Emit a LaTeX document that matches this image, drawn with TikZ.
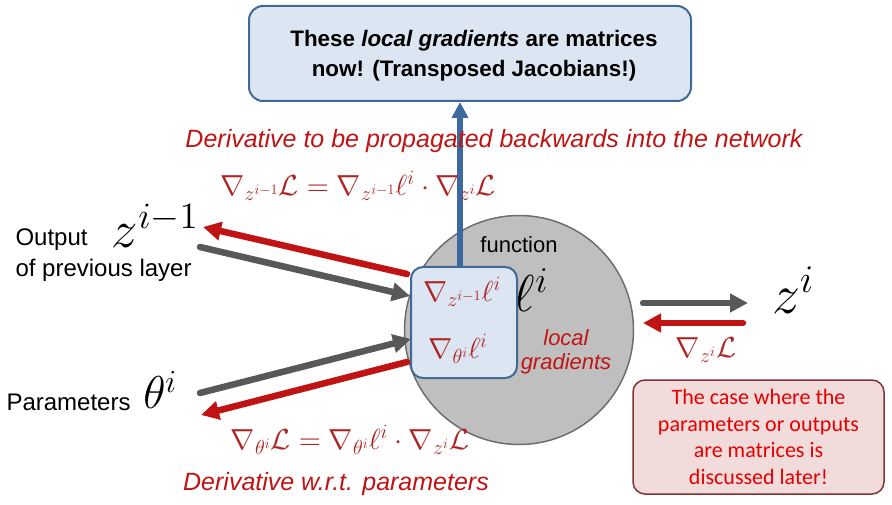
\documentclass[tikz,border=0pt]{standalone}
\DeclareFontFamily{OT1}{cmr}{\hyphenchar\font45 }
\DeclareFontShape{OT1}{cmr}{m}{n}{<-6>cmr5<6-7>cmr6<7-8>cmr7<8-9>cmr8<9-10>cmr9<10-12>cmr10<12->cmr12}{}
\DeclareFontFamily{OML}{cmm}{\skewchar\font127 }
\DeclareFontShape{OML}{cmm}{m}{it}{<-6>cmmi5<6-7>cmmi6<7-8>cmmi7<8-9>cmmi8<9-10>cmmi9<10-12>cmmi10<12->cmmi12}{}
\DeclareFontFamily{OMS}{cmsy}{\skewchar\font48 }
\DeclareFontShape{OMS}{cmsy}{m}{n}{<-6>cmsy5<6-7>cmsy6<7-8>cmsy7<8-9>cmsy8<9-10>cmsy9<10->cmsy10}{}
\usepackage{fontspec}
\setmainfont{Liberation Sans}
\newfontfamily\calfont{Carlito}
\usetikzlibrary{arrows.meta}
\definecolor{boxfill}{RGB}{220,230,242}
\definecolor{boxdraw}{RGB}{65,105,150}
\definecolor{bluearr}{RGB}{60,105,160}
\definecolor{darkred}{RGB}{192,20,20}
\definecolor{mathred}{RGB}{175,35,35}
\definecolor{arrgray}{RGB}{88,88,88}
\definecolor{circfill}{RGB}{191,191,191}
\definecolor{circdraw}{RGB}{110,110,110}
\definecolor{pinkfill}{RGB}{242,220,219}
\definecolor{pinkdraw}{RGB}{130,50,50}
\definecolor{notered}{RGB}{230,0,0}
\tikzset{
  bluebox/.style={draw=boxdraw, fill=boxfill, line width=2pt, rounded corners=14pt},
  grayarr/.style={draw=arrgray, line width=6.5pt, line cap=round, -{Triangle[length=18pt,width=18pt]}},
  redarr/.style={draw=darkred, line width=6.5pt, line cap=round, -{Triangle[length=18pt,width=18pt]}},
  bluearrow/.style={draw=bluearr, line width=6pt, -{Triangle[length=16pt,width=16pt]}},
  redlabel/.style={text=darkred, font=\fontsize{25}{29}\selectfont\itshape},
  mathlabel/.style={text=mathred, font=\fontsize{29}{32}\selectfont},
  plain/.style={font=\fontsize{24}{28}\selectfont, align=left},
}
\begin{document}
\begin{tikzpicture}[x=1pt,y=-1pt]
\useasboundingbox (0,0) rectangle (892,505);
% top box
\node[bluebox, minimum width=442pt, minimum height=95pt] (top) at (470,53.5) {};
\node[align=center, font=\fontsize{22.4}{30}\selectfont\bfseries] (toptext) at (474,56)
  {These \textit{local gradients} are matrices\\ now! (Transposed Jacobians!)};
% circle
\node[circle, draw=circdraw, fill=circfill, line width=1.5pt, minimum size=229pt] (circ) at (519,330) {};
\node[font=\fontsize{22}{26}\selectfont] (fn) at (519,245) {function};
\node[font=\fontsize{52}{56}\selectfont] (ell) at (531,290) {$\ell^i$};
\node[text=darkred, align=center, font=\fontsize{22}{24}\selectfont\itshape] (lg) at (566,352) {local\\gradients};
% inner box
\node[bluebox, rounded corners=12pt, minimum width=106pt, minimum height=111pt] (inner) at (464,322.5) {};
\node[mathlabel] (g1) at (462,292) {$\nabla_{z^{i-1}}\ell^i$};
\node[mathlabel] (g2) at (458,349) {$\nabla_{\theta^i}\ell^i$};
% blue arrow
\draw[bluearrow] (inner.north -| 460,0) -- (top.south -| 460,0);
% red caption
\node[redlabel] (cap1) at (494,141) {Derivative to be propagated backwards into the network};
\node[mathlabel] (f1) at (358,186) {$\nabla_{z^{i-1}}\mathcal{L} = \nabla_{z^{i-1}}\ell^i \cdot \nabla_{z^i}\mathcal{L}$};
% left input
\node[plain, anchor=west] (out1) at (12,240) {Output};
\node[plain, anchor=west] (out2) at (12,270) {of previous layer};
\node[font=\fontsize{53}{58}\selectfont] (zim1) at (155,226) {$z^{i-1}$};
\coordinate (r1s) at (407,274);
\coordinate (r1e) at (203,227);
\coordinate (g1s) at (200,247);
\coordinate (g1e) at (410,296);
\draw[redarr] (r1s) -- (r1e);
\draw[grayarr] (g1s) -- (g1e);
% parameters
\node[plain, anchor=west] (par) at (3,402) {Parameters};
\node[font=\fontsize{46}{50}\selectfont] (th) at (160,390) {$\theta^i$};
\coordinate (g2s) at (200,393);
\coordinate (g2e) at (411,339);
\coordinate (r2s) at (407,362);
\coordinate (r2e) at (201,415);
\draw[grayarr] (g2s) -- (g2e);
\draw[redarr] (r2s) -- (r2e);
\node[mathlabel] (f2) at (350,440) {$\nabla_{\theta^i}\mathcal{L} = \nabla_{\theta^i}\ell^i \cdot \nabla_{z^i}\mathcal{L}$};
\node[redlabel] (cap2) at (336,484) {Derivative w.r.t. parameters};
% right output
\coordinate (g3s) at (643,303);
\coordinate (g3e) at (748,303);
\coordinate (r3s) at (743,323);
\coordinate (r3e) at (643,323);
\draw[grayarr] (g3s) -- (g3e);
\draw[redarr] (r3s) -- (r3e);
\node[font=\fontsize{56}{60}\selectfont] (zi) at (793,290) {$z^i$};
\node[mathlabel] (dz) at (706,350) {$\nabla_{z^i}\mathcal{L}$};
% note
\node[draw=pinkdraw, fill=pinkfill, line width=1.5pt, rounded corners=12pt,
  minimum width=251pt, minimum height=114pt, align=center, text=notered,
  font=\calfont\fontsize{22}{26.5}\selectfont] (note) at (758.5,437)
  {The case where the\\parameters or outputs\\are matrices is\\discussed later!};
\end{tikzpicture}
\end{document}
